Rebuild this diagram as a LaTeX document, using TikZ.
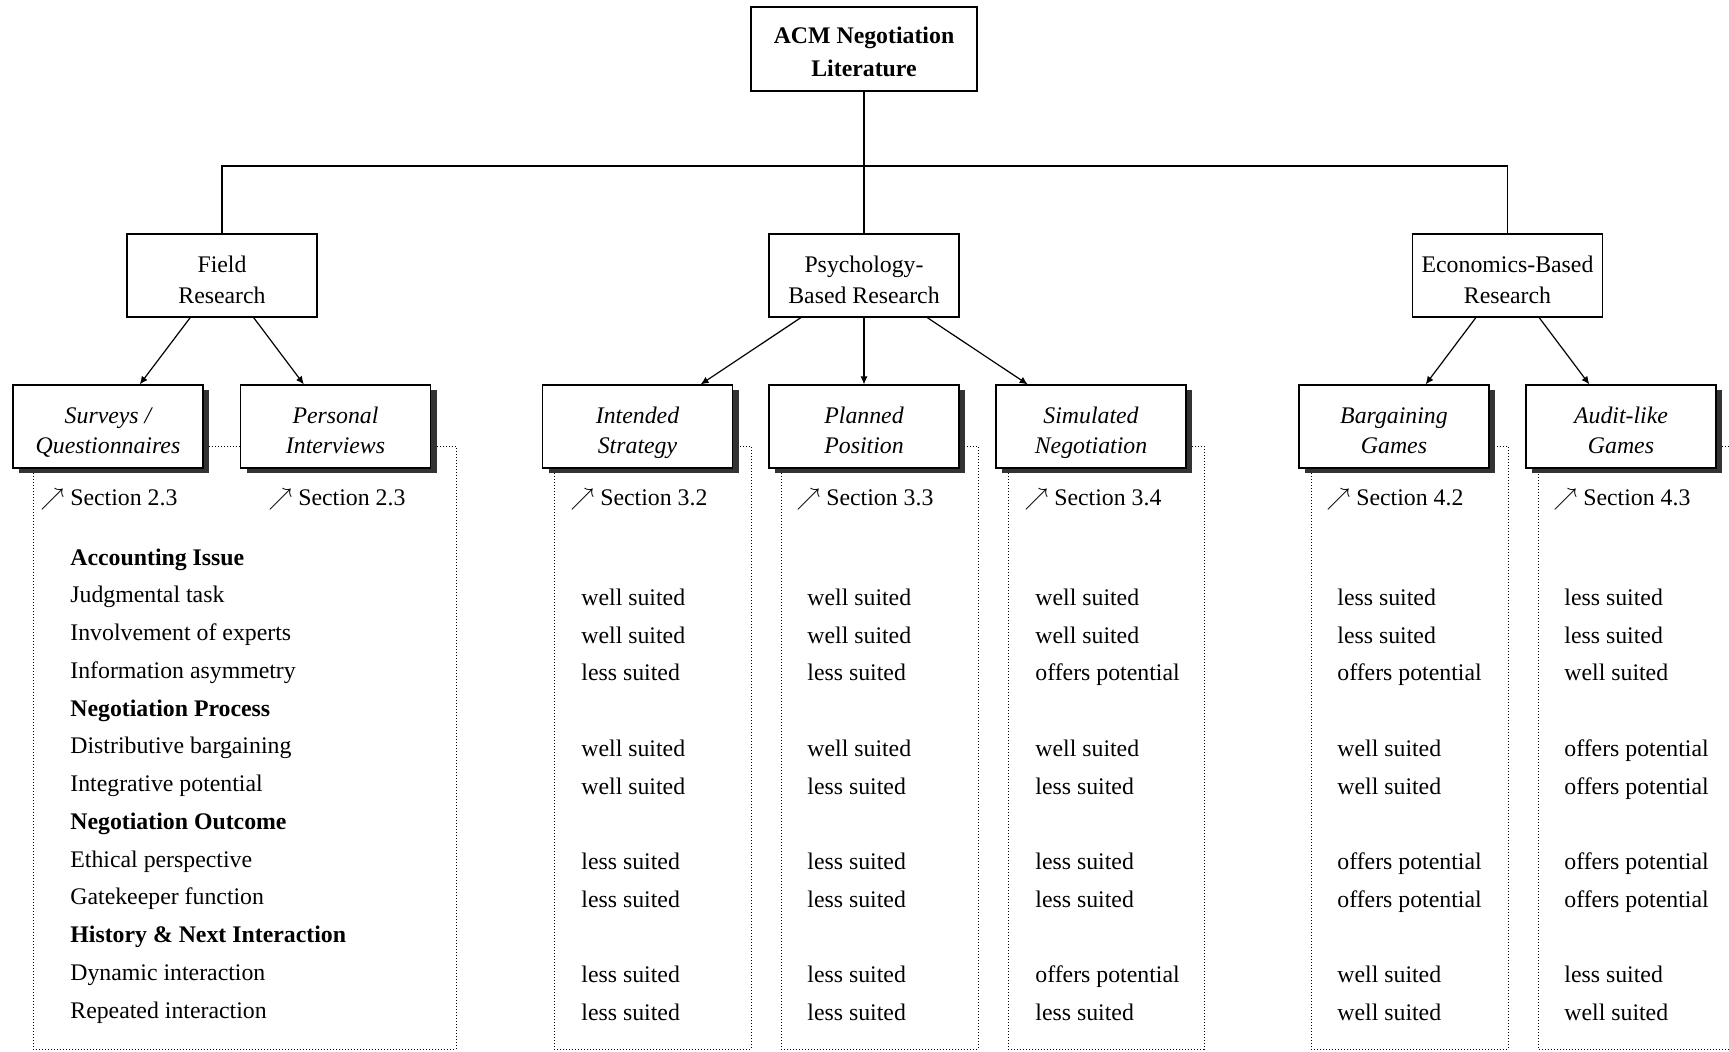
\documentclass[tikz,border=0pt]{standalone}
\usepackage{fontspec}
\setmainfont{Liberation Serif}
\usetikzlibrary{arrows.meta,shadows}
\def\ratew{well suited}
\def\ratel{less suited}
\def\rateo{offers potential}
% two centred lines; the strut height #1 sets how low the pair sits in its box
\newcommand\twoline[3]{\rule{0pt}{#1}#2\\#3\rule[-3pt]{0pt}{3pt}}
\begin{document}
\begin{tikzpicture}[x=0.5pt,y=-0.5pt,
  every node/.style={font=\fontsize{11.9}{15}\selectfont},
  box/.style={draw, line width=0.6pt, fill=white, inner sep=2pt, align=center,
    font=\fontsize{11.9}{15.4}\selectfont,
    minimum width=95pt, minimum height=41.5pt},
  rootbox/.style={box, font=\fontsize{11.9}{16.5}\selectfont\bfseries,
    minimum width=113pt, minimum height=42pt},
  method/.style={box, font=\fontsize{11.9}{15.4}\selectfont\itshape,
    drop shadow={shadow xshift=3pt, shadow yshift=-2.6pt, fill=black!80, opacity=1}},
  link/.style={line width=0.6pt},
  branch/.style={line width=0.6pt, -{Latex[length=4pt,width=3.6pt]}},
  frame/.style={line width=0.5pt, dash pattern=on 0.5pt off 1pt},
  lbl/.style={anchor=base west, inner sep=0pt},
  head/.style={lbl, font=\fontsize{11.9}{15}\selectfont\bfseries}]

\useasboundingbox (0,0) rectangle (1729,1051);

% dotted frames around each column of ratings
\draw[frame] (33,446) rectangle (456,1049);
\draw[frame] (554,446) rectangle (751,1049);
\draw[frame] (781,446) rectangle (978,1049);
\draw[frame] (1008,446) rectangle (1204,1049);
\draw[frame] (1311,446) rectangle (1508,1049);
\draw[frame] (1729,446) -- (1538,446) -- (1538,1049) -- (1729,1049);

% tree
\node[rootbox] (root) at (864,49) {\twoline{14.4pt}{ACM Negotiation}{Literature}};
\node[box] (field) at (222,275.5) {\twoline{15.5pt}{Field}{Research}};
\node[box] (psych) at (864,275.5) {\twoline{15.5pt}{Psychology-}{Based Research}};
\node[box] (econ) at (1507.5,275.5) {\twoline{15.5pt}{Economics-Based}{Research}};

\node[method] (surveys) at (108,426.5) {\twoline{14.9pt}{Surveys /}{Questionnaires}};
\node[method] (interviews) at (335.5,426.5) {\twoline{14.9pt}{Personal}{Interviews}};
\node[method] (intended) at (637.5,426.5) {\twoline{14.9pt}{Intended}{Strategy}};
\node[method] (planned) at (864,426.5) {\twoline{14.9pt}{Planned}{Position}};
\node[method] (simulated) at (1091,426.5) {\twoline{14.9pt}{Simulated}{Negotiation}};
\node[method] (bargaining) at (1394,426.5) {\twoline{14.9pt}{Bargaining}{Games}};
\node[method] (audit) at (1621,426.5) {\twoline{14.9pt}{Audit-like}{Games}};

\coordinate (bar) at (864,166);
\draw[link] (root) -- (psych);
\draw[link] (field.north) |- (bar) -| (econ.north);

\draw[branch] (field) -- (surveys);
\draw[branch] (field) -- (interviews);
\draw[branch] (psych) -- (intended);
\draw[branch] (psych) -- (planned);
\draw[branch] (psych) -- (simulated);
\draw[branch] (econ) -- (bargaining);
\draw[branch] (econ) -- (audit);

% section references
\node[lbl] (sec-surveys) at (40,505) {$\nearrow$ Section 2.3};
\node[lbl] (sec-interviews) at (268,505) {$\nearrow$ Section 2.3};
\node[lbl] (sec-intended) at (570,505) {$\nearrow$ Section 3.2};
\node[lbl] (sec-planned) at (796,505) {$\nearrow$ Section 3.3};
\node[lbl] (sec-simulated) at (1024,505) {$\nearrow$ Section 3.4};
\node[lbl] (sec-bargaining) at (1326,505) {$\nearrow$ Section 4.2};
\node[lbl] (sec-audit) at (1553,505) {$\nearrow$ Section 4.3};

% criteria
\node[head] (h1) at (70,565) {Accounting Issue};
\node[lbl] (c1) at (70,602.75) {Judgmental task};
\node[lbl] (c2) at (70,640.5) {Involvement of experts};
\node[lbl] (c3) at (70,678.25) {Information asymmetry};
\node[head] (h2) at (70,716) {Negotiation Process};
\node[lbl] (c4) at (70,753.75) {Distributive bargaining};
\node[lbl] (c5) at (70,791.5) {Integrative potential};
\node[head] (h3) at (70,829.25) {Negotiation Outcome};
\node[lbl] (c6) at (70,867) {Ethical perspective};
\node[lbl] (c7) at (70,904.75) {Gatekeeper function};
\node[head] (h4) at (70,942.5) {History \& Next Interaction};
\node[lbl] (c8) at (70,980.25) {Dynamic interaction};
\node[lbl] (c9) at (70,1018) {Repeated interaction};

% ratings: intended / planned / simulated / bargaining / audit
\foreach \y/\a/\b/\c/\d/\e [count=\i] in {
  605.25/w/w/w/l/l,
  643/w/w/w/l/l,
  680.75/l/l/o/o/w,
  756.25/w/w/w/w/o,
  794/w/l/l/w/o,
  869.5/l/l/l/o/o,
  907.25/l/l/l/o/o,
  982.75/l/l/o/w/l,
  1020.5/l/l/l/w/w}{
  \node[lbl] (r\i-1) at (581,\y) {\csname rate\a\endcsname};
  \node[lbl] (r\i-2) at (807,\y) {\csname rate\b\endcsname};
  \node[lbl] (r\i-3) at (1035,\y) {\csname rate\c\endcsname};
  \node[lbl] (r\i-4) at (1337,\y) {\csname rate\d\endcsname};
  \node[lbl] (r\i-5) at (1564,\y) {\csname rate\e\endcsname};
}
\end{tikzpicture}
\end{document}
